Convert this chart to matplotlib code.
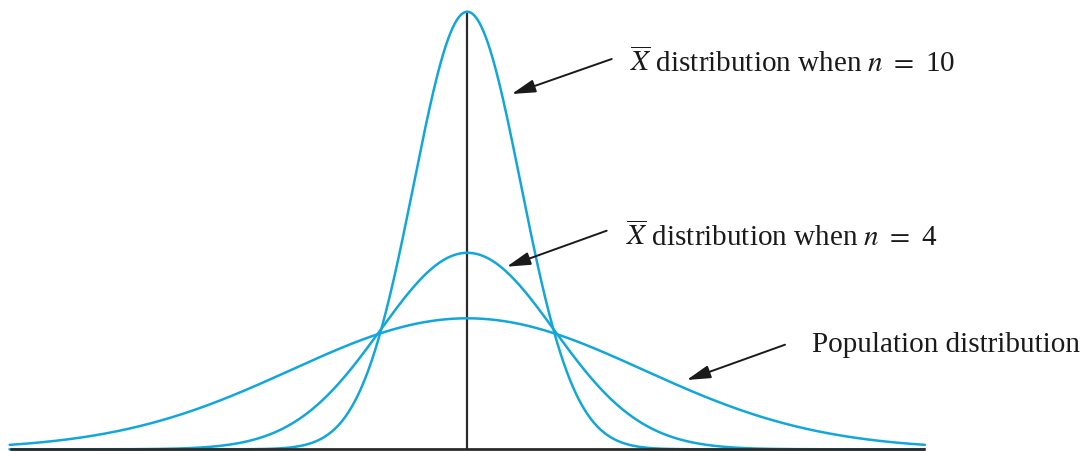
import numpy as np
import matplotlib
matplotlib.use("Agg")
import matplotlib.pyplot as plt

# ---- data ----
labels = ["Population distribution", "X̄ n=4", "X̄ n=10"]
means = [0.0, 0.0, 0.0]
sigmas = [1.0, 0.494, 0.304]          # in units of population sigma
peaks = [1.0, 1.50, 3.34]             # peak heights relative to population peak
x_range = [-2.6, 2.6]

curve_color = "#12a7da"

plt.rcParams["font.family"] = ["Liberation Serif", "DejaVu Serif"]
plt.rcParams["mathtext.fontset"] = "stix"

W, H = 1086, 452
fig = plt.figure(figsize=(W / 100, H / 100), dpi=100)
ax = fig.add_axes([0, 0, 1, 1])

# map: center pixel 467.3, 176 px per unit in x; baseline at 450.3 px from top, 131 px per unit in y
cx, sx = 467.3, 176.0
by, sy = 450.3, 131.0
ax.set_xlim(-cx / sx, (W - cx) / sx)
ax.set_ylim(-(H - by) / sy, by / sy)
ax.axis("off")

x = np.linspace(x_range[0], x_range[1], 2000)
for m, s, p in zip(means, sigmas, peaks):
    y = p * np.exp(-0.5 * ((x - m) / s) ** 2)
    ax.plot(x, y, color=curve_color, lw=1.8, zorder=2, solid_capstyle="round")

# baseline and centre line
ax.plot([x_range[0], x_range[1]], [0, 0], color="#2b2b2b", lw=2.0, zorder=3,
        solid_capstyle="butt")
ax.plot([means[0], means[0]], [0, max(peaks)], color="#2b2b2b", lw=1.6, zorder=1)

fs = 21
texts = [
    (r"$\overline{X}$ distribution when $n$ $=$ 10", 630, 71.7),
    (r"$\overline{X}$ distribution when $n$ $=$ 4", 626, 246.5),
    ("Population distribution", 811.5, 351.7),
]
for t, tx, ty in texts:
    fig.text(tx / W, 1 - ty / H, t, fontsize=fs, ha="left", va="baseline",
             color="#1a1a1a")

arrows = [
    ((611.7, 60.0), (511.7, 95.0)),
    ((606.7, 231.7), (506.7, 267.7)),
    ((785.0, 345.7), (686.7, 381.0)),
]
for (x0, y0), (x1, y1) in arrows:
    ax.annotate("", xy=(x1, H - y1), xycoords="figure pixels",
                xytext=(x0, H - y0), textcoords="figure pixels",
                arrowprops=dict(arrowstyle="-|>,head_length=0.8,head_width=0.22",
                                lw=1.4, color="#1a1a1a", mutation_scale=18,
                                shrinkA=0, shrinkB=0))

fig.savefig("out.png", dpi=100)
